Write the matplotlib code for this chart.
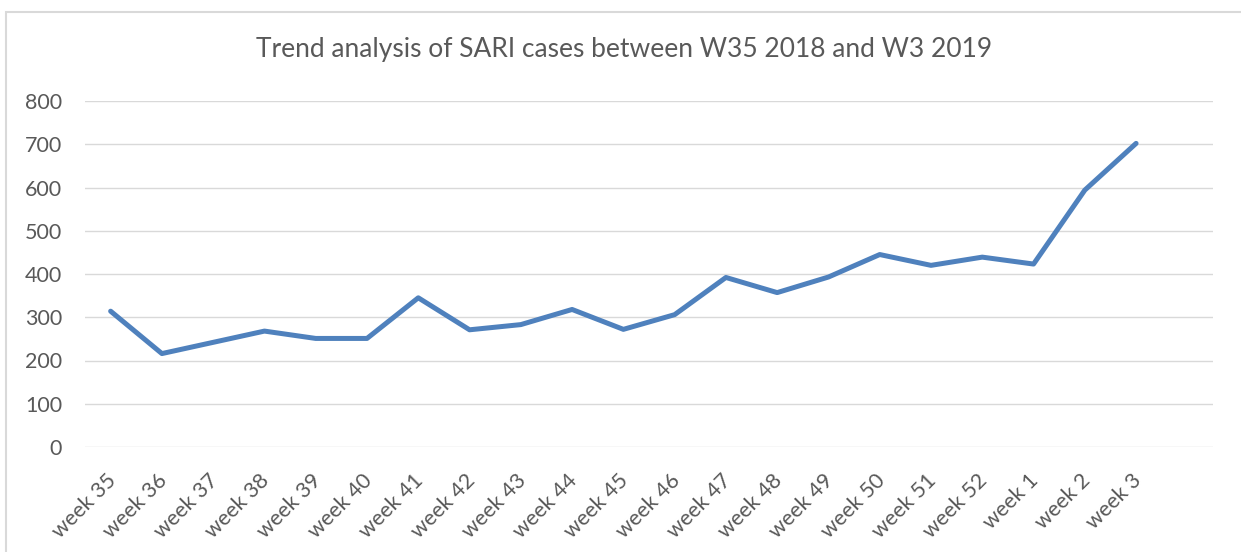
import matplotlib
matplotlib.use("Agg")
import matplotlib.pyplot as plt
from matplotlib.patches import Rectangle
from matplotlib.transforms import ScaledTranslation

weeks = ["week 35", "week 36", "week 37", "week 38", "week 39", "week 40",
         "week 41", "week 42", "week 43", "week 44", "week 45", "week 46",
         "week 47", "week 48", "week 49", "week 50", "week 51", "week 52",
         "week 1", "week 2", "week 3"]
cases = [314, 216, 242, 268, 251, 251, 345, 271, 283, 318, 272, 306,
         392, 357, 393, 445, 420, 439, 423, 594, 702]
yticks = [0, 100, 200, 300, 400, 500, 600, 700, 800]
title = "Trend analysis of SARI cases between W35 2018 and W3 2019"

plt.rcParams['font.family'] = ['Lato', 'DejaVu Sans']
W, H, DPI = 1241, 552, 100
fig = plt.figure(figsize=(W / DPI, H / DPI), dpi=DPI)
fig.patch.set_facecolor('white')

# chart border
fig.patches.append(Rectangle((6 / W, -0.1), 1.2, 1 - 12 / H + 0.1,
                             transform=fig.transFigure, fill=False,
                             edgecolor='#D9D9D9', linewidth=1.5))

ax = fig.add_axes([85 / W, 1 - 447 / H, (1213 - 85) / W, (447 - 101) / H])
x = list(range(len(weeks)))
ax.plot(x, cases, color='#4F81BD', linewidth=3.6, solid_capstyle='round',
        solid_joinstyle='round', zorder=3)
ax.set_xlim(-0.5, len(weeks) + 0.5)
ax.set_ylim(0, 800)
ax.set_yticks(yticks)
ax.set_yticklabels([str(v) for v in yticks])
ax.grid(axis='y', color='#D9D9D9', linewidth=1.0)
ax.set_axisbelow(True)
for s in ax.spines.values():
    s.set_visible(False)
ax.tick_params(axis='y', length=0, pad=16.5, labelsize=15.5, labelcolor='#595959')
ax.tick_params(axis='x', length=0, pad=17, labelsize=15.5, labelcolor='#595959')
ax.set_xticks(x)
ax.set_xticklabels(weeks, rotation=45, ha='right', va='top',
                   rotation_mode='anchor')
shift = ScaledTranslation(-5 / DPI, 0, fig.dpi_scale_trans)
for lbl in ax.get_xticklabels():
    lbl.set_transform(lbl.get_transform() + shift)

fig.text(624.5 / W, 1 - 50 / H, title, ha='center', va='center',
         fontsize=19, color='#595959')

fig.savefig('out.png', dpi=DPI, facecolor='white')
